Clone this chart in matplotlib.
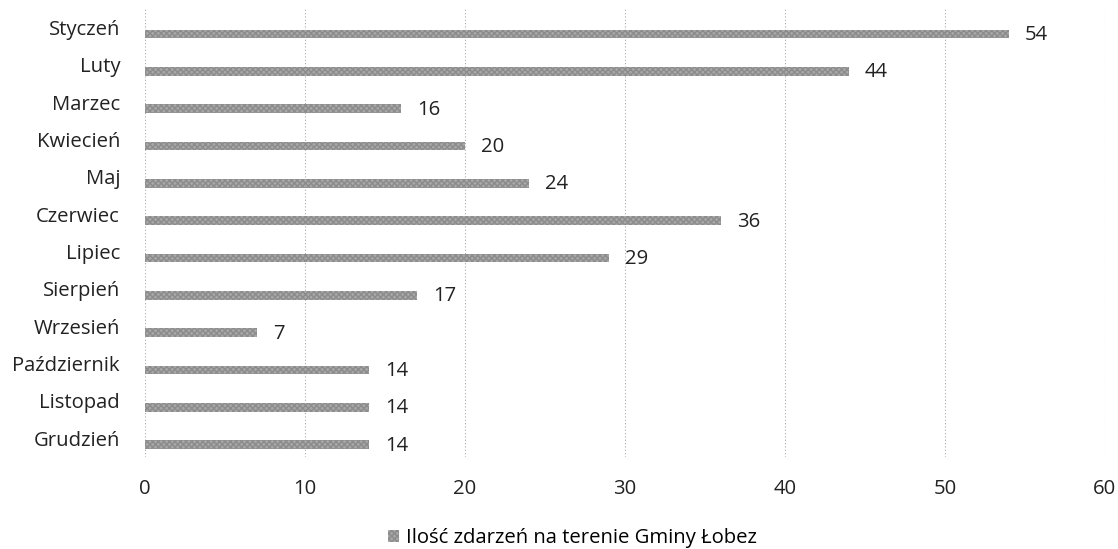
import matplotlib.pyplot as plt
from matplotlib.patches import Patch

months = ["Styczeń", "Luty", "Marzec", "Kwiecień", "Maj", "Czerwiec", "Lipiec",
          "Sierpień", "Wrzesień", "Październik", "Listopad", "Grudzień"]
values = [54, 44, 16, 20, 24, 36, 29, 17, 7, 14, 14, 14]
series_name = "Ilość zdarzeń na terenie Gminy Łobez"
xticks = [0, 10, 20, 30, 40, 50, 60]

FS = 14.6
plt.rcParams['font.family'] = ['Open Sans', 'DejaVu Sans']
fig = plt.figure(figsize=(11.18, 5.49), dpi=100)
ax = fig.add_axes([145/1118, 1 - 457/549, (1105-145)/1118, (457-9)/549])

pos = list(range(len(months)))
bar_off = 0.17
ax.barh([p + bar_off for p in pos], values, height=0.24, color='#a8a8a8',
        hatch='xxxxxx', edgecolor='#8c8c8c', linewidth=0)
for p, v in zip(pos, values):
    ax.text(v + 1.0, p + bar_off + 0.03, str(v), va='center', ha='left', fontsize=FS, color='#222222')

ax.set_ylim(len(months) - 0.5, -0.5)
ax.set_xlim(0, 60)
ax.set_yticks(pos)
ax.set_yticklabels(months, fontsize=FS, color='#222222')
ax.set_xticks(xticks)
ax.set_xticklabels([str(t) for t in xticks], fontsize=FS, color='#222222')
ax.tick_params(axis='both', length=0)
ax.tick_params(axis='y', pad=18)
ax.tick_params(axis='x', pad=16)
for s in ax.spines.values():
    s.set_visible(False)
ax.grid(axis='x', linestyle=(0, (1, 2)), color='#aaaaaa', linewidth=0.8)
ax.set_axisbelow(True)

handle = Patch(facecolor='#a8a8a8', hatch='xxxxxx', edgecolor='#8c8c8c', linewidth=0)
fig.legend([handle], [series_name], loc='center', bbox_to_anchor=(0.512, 1 - 538/549),
           frameon=False, fontsize=FS, handlelength=0.55, handleheight=0.55, handletextpad=0.35)

fig.savefig('out.png', dpi=100)
